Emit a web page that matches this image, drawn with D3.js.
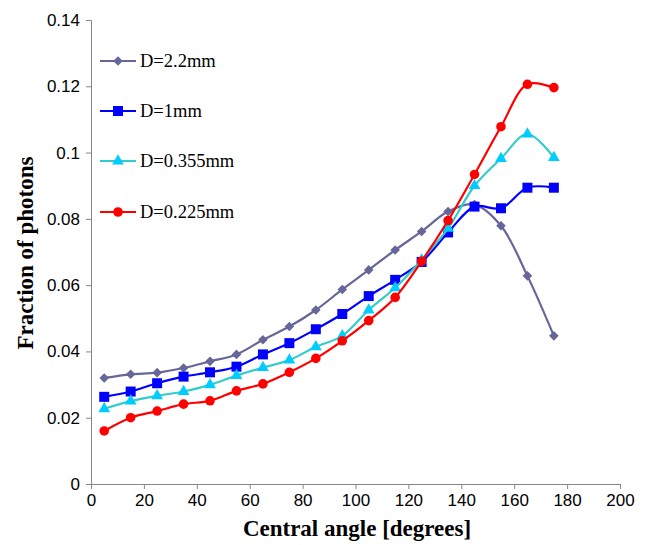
<!DOCTYPE html>
<html>
<head>
<meta charset="utf-8">
<script src="https://cdn.jsdelivr.net/npm/d3@7"></script>
<style>
  body { margin: 0; background: #fff; }
  .tick text { font-family: "Liberation Sans", Arial, sans-serif; font-size: 17px; fill: #000; }
  .axis path, .axis line { stroke: #868686; }
</style>
</head>
<body>
<div id="chart"></div>
<script>
const angles = [5, 15, 25, 35, 45, 55, 65, 75, 85, 95, 105, 115, 125, 135, 145, 155, 165, 175];

const d22 = [0.0320, 0.0331, 0.0336, 0.0350, 0.0370, 0.0391, 0.0435, 0.0475, 0.0525, 0.0587,
             0.0646, 0.0706, 0.0762, 0.0822, 0.0843, 0.0779, 0.0628, 0.0447];
const d1 = [0.0263, 0.0279, 0.0304, 0.0324, 0.0337, 0.0354, 0.0391, 0.0425, 0.0467, 0.0513,
            0.0567, 0.0616, 0.0670, 0.0759, 0.0837, 0.0832, 0.0894, 0.0894];
const d0355 = [0.0227, 0.0250, 0.0266, 0.0279, 0.0299, 0.0327, 0.0351, 0.0374, 0.0414, 0.0447,
               0.0525, 0.0592, 0.0676, 0.0771, 0.0900, 0.0982, 0.1056, 0.0985];
const d0225 = [0.0160, 0.0200, 0.0220, 0.0241, 0.0251, 0.0281, 0.0302, 0.0337, 0.0379, 0.0432,
               0.0493, 0.0563, 0.0672, 0.0795, 0.0934, 0.1078, 0.1206, 0.1196];

const seriesNames = ["D=2.2mm", "D=1mm", "D=0.355mm", "D=0.225mm"];
const xTicks = [0, 20, 40, 60, 80, 100, 120, 140, 160, 180, 200];
const yTicks = [0, 0.02, 0.04, 0.06, 0.08, 0.1, 0.12, 0.14];

const series = [
  { name: seriesNames[0], values: d22, line: "#666699", fill: "#666699", shape: "diamond" },
  { name: seriesNames[1], values: d1, line: "#0000FF", fill: "#0000FF", shape: "square" },
  { name: seriesNames[2], values: d0355, line: "#33CCCC", fill: "#00CCFF", shape: "triangle" },
  { name: seriesNames[3], values: d0225, line: "#FF0000", fill: "#FF0000", shape: "circle" }
];

const W = 645, H = 545;
const margin = { left: 91, right: 25, top: 20, bottom: 61 };

const svg = d3.select("#chart").append("svg")
  .attr("width", W).attr("height", H);

const x = d3.scaleLinear().domain([0, 200]).range([margin.left, W - margin.right]);
const y = d3.scaleLinear().domain([0, 0.14]).range([H - margin.bottom, margin.top]);

// axes
svg.append("g")
  .attr("class", "axis")
  .attr("transform", `translate(0,${y(0)})`)
  .call(d3.axisBottom(x).tickValues(xTicks).tickSize(5).tickPadding(5).tickFormat(d3.format("d")));

svg.append("g")
  .attr("class", "axis")
  .attr("transform", `translate(${x(0)},0)`)
  .call(d3.axisLeft(y).tickValues(yTicks).tickSize(5).tickPadding(6).tickFormat(d => d === 0 ? "0" : String(+d.toFixed(2))));

svg.selectAll(".axis .domain").attr("stroke", "#868686");

// axis titles
svg.append("text")
  .attr("x", 357)
  .attr("y", 536)
  .attr("text-anchor", "middle")
  .style("font-family", "'Liberation Serif', 'Times New Roman', serif")
  .style("font-weight", "bold")
  .style("font-size", "23px")
  .text("Central angle [degrees]");

svg.append("text")
  .attr("transform", `translate(33,253) rotate(-90)`)
  .attr("text-anchor", "middle")
  .style("font-family", "'Liberation Serif', 'Times New Roman', serif")
  .style("font-weight", "bold")
  .style("font-size", "23px")
  .text("Fraction of photons");

function marker(g, s) {
  if (s.shape === "diamond") {
    g.append("path").attr("d", d3.symbol(d3.symbolSquare, 46)())
      .attr("transform", "rotate(45)").attr("fill", s.fill);
  } else if (s.shape === "square") {
    g.append("path").attr("d", d3.symbol(d3.symbolSquare, 100)()).attr("fill", s.fill);
  } else if (s.shape === "triangle") {
    g.append("path").attr("d", d3.symbol(d3.symbolTriangle, 60)()).attr("fill", s.fill);
  } else {
    g.append("path").attr("d", d3.symbol(d3.symbolCircle, 72)()).attr("fill", s.fill);
  }
}

const line = d3.line()
  .x(d => x(d[0]))
  .y(d => y(d[1]))
  .curve(d3.curveCatmullRom.alpha(0.5));

series.forEach(s => {
  const pts = angles.map((a, i) => [a, s.values[i]]);
  svg.append("path")
    .datum(pts)
    .attr("fill", "none")
    .attr("stroke", s.line)
    .attr("stroke-width", 2.2)
    .attr("d", line);
  pts.forEach(p => {
    const g = svg.append("g").attr("transform", `translate(${x(p[0])},${y(p[1])})`);
    marker(g, s);
  });
});

// legend
const legendY = [61, 111, 161, 212];
series.forEach((s, i) => {
  const g = svg.append("g").attr("transform", `translate(100,${legendY[i]})`);
  g.append("line").attr("x1", 0).attr("x2", 36).attr("y1", 0).attr("y2", 0)
    .attr("stroke", s.line).attr("stroke-width", 2);
  const m = g.append("g").attr("transform", "translate(18,0)");
  marker(m, s);
  g.append("text")
    .attr("x", 40).attr("y", 6)
    .style("font-family", "'Liberation Serif', 'Times New Roman', serif")
    .style("font-size", "18.5px")
    .text(s.name);
});
</script>
</body>
</html>
